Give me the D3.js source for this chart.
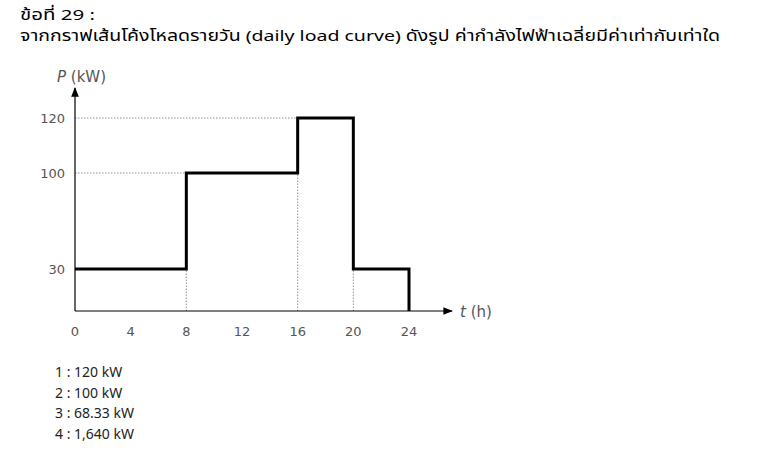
<!DOCTYPE html>
<html>
<head>
<meta charset="utf-8">
<script src="https://cdn.jsdelivr.net/npm/d3@7"></script>
<style>
  body { margin: 0; background: #fff; }
  svg { display: block; font-family: Tahoma, "Noto Sans Thai", "Noto Sans", sans-serif; }
</style>
</head>
<body>
<svg id="chart" width="768" height="462"></svg>
<script>
// daily load curve steps
const stepStart = [0, 8, 16, 20];
const stepEnd = [8, 16, 20, 24];
const stepLoad = [30, 100, 120, 30];
const xTicks = [0, 4, 8, 12, 16, 20, 24];
const yTicks = [30, 100, 120];
const choices = ['1 : 120 kW', '2 : 100 kW', '3 : 68.33 kW', '4 : 1,640 kW'];

const svg = d3.select('#chart');

svg.append('text').attr('x', 20).attr('y', 20).attr('font-size', 15)
    .attr('textLength', 75).attr('lengthAdjust', 'spacingAndGlyphs')
    .text('ข้อที่ 29 :');
svg.append('text').attr('x', 20).attr('y', 41).attr('font-size', 15)
    .attr('textLength', 700).attr('lengthAdjust', 'spacingAndGlyphs')
    .text('จากกราฟเส้นโค้งโหลดรายวัน (daily load curve) ดังรูป ค่ากำลังไฟฟ้าเฉลี่ยมีค่าเท่ากับเท่าใด');

// the figure is schematic, so the y scale is piecewise
const x = d3.scaleLinear().domain([0, 24]).range([75, 409]);
const y = d3.scaleLinear().domain([0, 30, 100, 120]).range([311, 269, 173, 118]);

const g = svg.append('g');
const grey = '#555';
const dotted = sel => sel.attr('stroke', '#777').attr('stroke-width', 0.8).attr('stroke-dasharray', '1.5,1.5');

// dotted guides
[[100, 8], [120, 16]].forEach(([v, t]) => {
    g.append('line').attr('x1', x(0)).attr('x2', x(t)).attr('y1', y(v)).attr('y2', y(v)).call(dotted);
});
[[8, 30], [16, 100], [20, 30]].forEach(([t, v]) => {
    g.append('line').attr('x1', x(t)).attr('x2', x(t)).attr('y1', y(0)).attr('y2', y(v)).call(dotted);
});

// axes with arrows
svg.append('defs').append('marker').attr('id', 'arr').attr('viewBox', '0 0 10 10')
    .attr('refX', 9).attr('refY', 5).attr('markerWidth', 8).attr('markerHeight', 8)
    .attr('orient', 'auto-start-reverse')
    .append('path').attr('d', 'M0,1 L10,5 L0,9 z').attr('fill', '#000');
g.append('line').attr('x1', x(0)).attr('x2', x(0)).attr('y1', y(0)).attr('y2', 88)
    .attr('stroke', '#000').attr('stroke-width', 1.2).attr('marker-end', 'url(#arr)');
g.append('line').attr('x1', x(0)).attr('x2', 452).attr('y1', y(0)).attr('y2', y(0))
    .attr('stroke', '#000').attr('stroke-width', 1.2).attr('marker-end', 'url(#arr)');

// load curve
const pts = [];
stepStart.forEach((s, i) => { pts.push([x(s), y(stepLoad[i])]); pts.push([x(stepEnd[i]), y(stepLoad[i])]); });
pts.push([x(24), y(0)]);
g.append('path').attr('d', d3.line()(pts)).attr('fill', 'none').attr('stroke', '#000')
    .attr('stroke-width', 3).attr('stroke-linejoin', 'miter');

// tick labels
g.selectAll('.xt').data(xTicks).enter().append('text')
    .attr('x', d => x(d)).attr('y', 336).attr('text-anchor', 'middle')
    .attr('font-size', 13).attr('fill', grey).attr('font-family', '"DejaVu Sans", sans-serif')
    .text(d => d);
g.selectAll('.yt').data(yTicks).enter().append('text')
    .attr('x', 65).attr('y', d => y(d) + 5).attr('text-anchor', 'end')
    .attr('font-size', 13).attr('fill', grey).attr('font-family', '"DejaVu Sans", sans-serif')
    .text(d => d);

// axis titles
const yt = g.append('text').attr('x', 57).attr('y', 82).attr('font-size', 15).attr('fill', grey)
    .attr('font-family', '"DejaVu Sans", sans-serif');
yt.append('tspan').attr('font-style', 'italic').text('P');
yt.append('tspan').text(' (kW)');
const xt = g.append('text').attr('x', 460).attr('y', 317).attr('font-size', 15).attr('fill', grey)
    .attr('font-family', '"DejaVu Sans", sans-serif');
xt.append('tspan').attr('font-style', 'italic').text('t');
xt.append('tspan').text(' (h)');

// answer choices
svg.selectAll('.ch').data(choices).enter().append('text')
    .attr('x', 55).attr('y', (d, i) => 377 + i * 20.5)
    .attr('font-size', 14).attr('fill', '#222').text(d => d);
</script>
</body>
</html>
